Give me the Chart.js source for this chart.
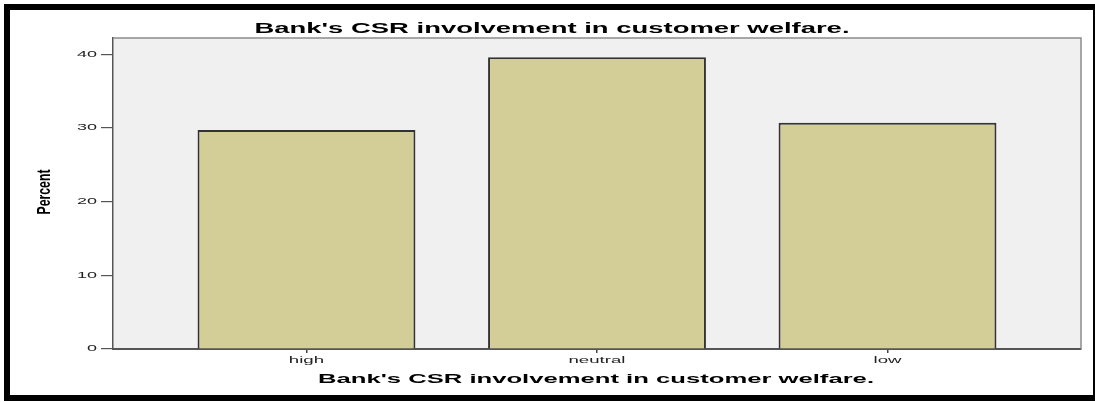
<!DOCTYPE html>
<html><head><meta charset="utf-8">
<script src="https://cdn.jsdelivr.net/npm/chart.js@4"></script>
<style>
html,body{margin:0;padding:0;background:#fff;overflow:hidden}
#wrap{position:relative;width:1095px;height:402px;overflow:hidden}
#c{position:absolute;left:0;top:0}
#frame{position:absolute;left:4px;top:4px;width:1095px;height:397px;border:6px solid #000;box-sizing:border-box;pointer-events:none}
</style></head><body>
<div id="wrap"><canvas id="c" width="1095" height="402"></canvas><div id="frame"></div></div>
<script>
const categories = ['high', 'neutral', 'low'];
const percents = [29.7, 39.6, 30.7];
const yTicks = [0, 10, 20, 30, 40];
const chartTitle = "Bank's CSR involvement in customer welfare.";
const xAxisTitle = "Bank's CSR involvement in customer welfare.";
const yAxisTitle = "Percent";

function drawStretched(ctx, text, x, y, opts) {
  ctx.save();
  ctx.font = opts.font;
  const w = ctx.measureText(text).width;
  const sx = opts.width ? opts.width / w : (opts.sx || 1);
  ctx.translate(x, y);
  if (opts.rotate) ctx.rotate(opts.rotate);
  ctx.scale(sx, opts.sy || 1);
  ctx.textAlign = opts.align || 'center';
  ctx.textBaseline = opts.baseline || 'alphabetic';
  ctx.fillStyle = opts.color || '#000';
  ctx.fillText(text, 0, 0);
  ctx.restore();
  return sx;
}

const spssPlugin = {
  id: 'spss',
  beforeDraw(chart) {
    const {ctx, chartArea: a} = chart;
    ctx.save();
    ctx.fillStyle = '#f0f0f0';
    ctx.fillRect(a.left, a.top, a.right - a.left, a.bottom - a.top);
    ctx.restore();
  },
  afterDraw(chart) {
    const {ctx, chartArea: a, scales} = chart;
    ctx.save();
    ctx.strokeStyle = '#8c8c8c';
    ctx.lineWidth = 1.5;
    ctx.beginPath();
    ctx.moveTo(a.left, a.top);
    ctx.lineTo(a.right, a.top);
    ctx.lineTo(a.right, a.bottom);
    ctx.stroke();
    ctx.restore();

    drawStretched(ctx, chartTitle, 552, 33, {font: 'bold 14px "Liberation Sans", Arial', width: 595, sy: 1.05});
    drawStretched(ctx, xAxisTitle, 596, 383, {font: 'bold 13px "Liberation Sans", Arial', width: 556});
    drawStretched(ctx, yAxisTitle, 50, 192, {font: 'bold 12px "Liberation Sans", Arial', width: 45, sy: 1.5, rotate: -Math.PI / 2});

    ctx.save();
    ctx.font = '9px "Liberation Sans", Arial';
    const ysx = 20 / ctx.measureText('40').width;
    ctx.restore();
    yTicks.forEach(v => {
      drawStretched(ctx, String(v), 97, scales.y.getPixelForValue(v), {font: '9px "Liberation Sans", Arial', sx: ysx, align: 'right', baseline: 'middle', color: '#222'});
    });
    ctx.save();
    ctx.font = '9px "Liberation Sans", Arial';
    const xsx = 57 / ctx.measureText('neutral').width;
    ctx.restore();
    categories.forEach((c, i) => {
      drawStretched(ctx, c, scales.x.getPixelForValue(i), 363, {font: '9px "Liberation Sans", Arial', sx: xsx, color: '#222'});
    });
  }
};

new Chart(document.getElementById('c'), {
  type: 'bar',
  data: {
    datasets: [{
      label: 'Percent',
      data: percents.map((v, i) => ({x: i, y: v})),
      backgroundColor: '#d3ce98',
      borderColor: '#333333',
      borderWidth: 2,
      categoryPercentage: 1,
      barPercentage: 0.75
    }]
  },
  options: {
    responsive: false,
    animation: false,
    devicePixelRatio: 1,
    layout: {padding: {top: 38, right: 14, left: 0, bottom: 0}},
    plugins: {legend: {display: false}, title: {display: false}, tooltip: {enabled: false}},
    scales: {
      x: {
        type: 'linear',
        offset: false,
        min: -0.666,
        max: 2.666,
        afterBuildTicks: s => { s.ticks = categories.map((_, i) => ({value: i})); },
        afterFit: s => { s.height = 53; },
        ticks: {display: false},
        grid: {display: true, offset: false, drawOnChartArea: false, drawTicks: true, tickLength: 4, color: '#444', lineWidth: 1.5},
        border: {display: true, color: '#555', width: 2}
      },
      y: {
        min: 0,
        max: 42.2,
        afterBuildTicks: s => { s.ticks = yTicks.map(v => ({value: v})); },
        afterFit: s => { s.width = 113; },
        ticks: {display: false},
        grid: {display: true, drawOnChartArea: false, drawTicks: true, tickLength: 12, color: '#555', lineWidth: 1.2},
        border: {display: true, color: '#555', width: 1.5}
      }
    }
  },
  plugins: [spssPlugin]
});
</script>
</body></html>
